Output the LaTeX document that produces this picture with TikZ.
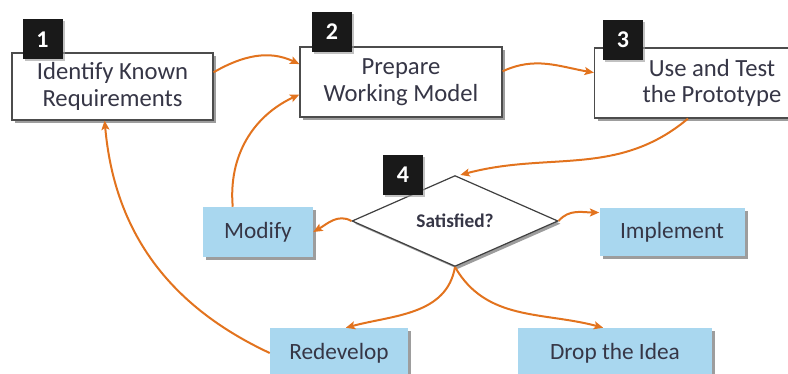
\documentclass[tikz,border=0pt]{standalone}
\usepackage{fontspec}
\setmainfont{Carlito}
\usetikzlibrary{shapes.geometric, shadows, arrows.meta}
\definecolor{flow}{HTML}{E2731E}
\definecolor{optblue}{HTML}{A9D7EF}
\definecolor{boxtext}{HTML}{363646}
\tikzset{%
    stage box/.style={%
        draw=black!70, fill=white, line width=0.9pt,
        align=center, text=boxtext, inner sep=0pt,
        font=\fontsize{18.5}{20}\selectfont,
        drop shadow={shadow xshift=2.5pt, shadow yshift=-2.5pt,
            fill=black!55, opacity=0.7}
    },%
    option box/.style={%
        fill=optblue, text=boxtext, inner sep=0pt,
        minimum height=37.5pt,
        font=\fontsize{17.5}{18}\selectfont,
        drop shadow={shadow xshift=2.5pt, shadow yshift=-2.5pt,
            fill=black!55, opacity=0.7}
    },%
    num box/.style={%
        fill=black!90, text=white, minimum size=30pt, inner sep=0pt,
        font=\fontsize{18}{18}\bfseries\selectfont,
        drop shadow={shadow xshift=1.5pt, shadow yshift=-1.5pt,
            fill=black!40, opacity=0.6}
    },%
    decision/.style={%
        diamond, draw=black!75, fill=white, line width=0.9pt,
        inner sep=0pt, minimum width=154.5pt, minimum height=61.5pt,
        text=boxtext, font=\fontsize{14.5}{15}\bfseries\selectfont,
        drop shadow={shadow xshift=2pt, shadow yshift=-2pt,
            fill=black!55, opacity=0.7}
    },%
    flow arrow/.style={%
        draw=flow, line width=1.5pt,
        -{Stealth[length=7pt, width=6pt, inset=1.5pt]}
    }%
}

\begin{document}
\begin{tikzpicture}[x=0.75pt, y=-0.75pt]
\useasboundingbox (0,0) rectangle (788,374);

% main stages
\node[stage box, minimum width=150.75pt, minimum height=50.25pt] (b1) at (112.5,86.5)
    {Identify Known\\Requirements};
\node[stage box, minimum width=151.5pt, minimum height=52.5pt] (b2) at (401,82)
    {Prepare\\Working Model};
\node[stage box, minimum width=176.25pt, minimum height=52.5pt] (b3) at (712,83)
    {Use and Test\\the Prototype};
\node[decision] (dia) at (455,221) {Satisfied?};

% outcomes
\node[option box, minimum width=82.5pt] (mod) at (258,232) {Modify};
\node[option box, minimum width=108.75pt, minimum height=36pt] (imp) at (672,232) {Implement};
\node[option box, minimum width=103.5pt] (red) at (339,353) {Redevelop};
\node[option box, minimum width=145.5pt] (drop) at (615,353) {Drop the Idea};

% step numbers
\node[num box] (n1) at (42.5,39.5) {1};
\node[num box] (n2) at (332,32) {2};
\node[num box] (n3) at (623,40) {3};
\node[num box] (n4) at (403,175) {4};

\draw[flow arrow] (b1.8) to[out=30, in=155] (b2.170);
\draw[flow arrow] (b2.6) to[out=25, in=170] (b3.175);
\draw[flow arrow] (b3.236) to[out=-140, in=15] ([xshift=4pt]dia.north);
\draw[flow arrow] (dia.west) to[out=150, in=30] (mod.east);
\draw[flow arrow] (dia.east) to[out=50, in=180] (imp.165);
\draw[flow arrow] (dia.south) to[out=-100, in=15] (red.75);
\draw[flow arrow] (dia.south) to[out=-60, in=165] (drop.115);
\draw[flow arrow] (mod.135) to[out=95, in=205] (b2.187);
\draw[flow arrow] (red.west) to[out=155, in=-85] (b1.257);
\end{tikzpicture}
\end{document}
